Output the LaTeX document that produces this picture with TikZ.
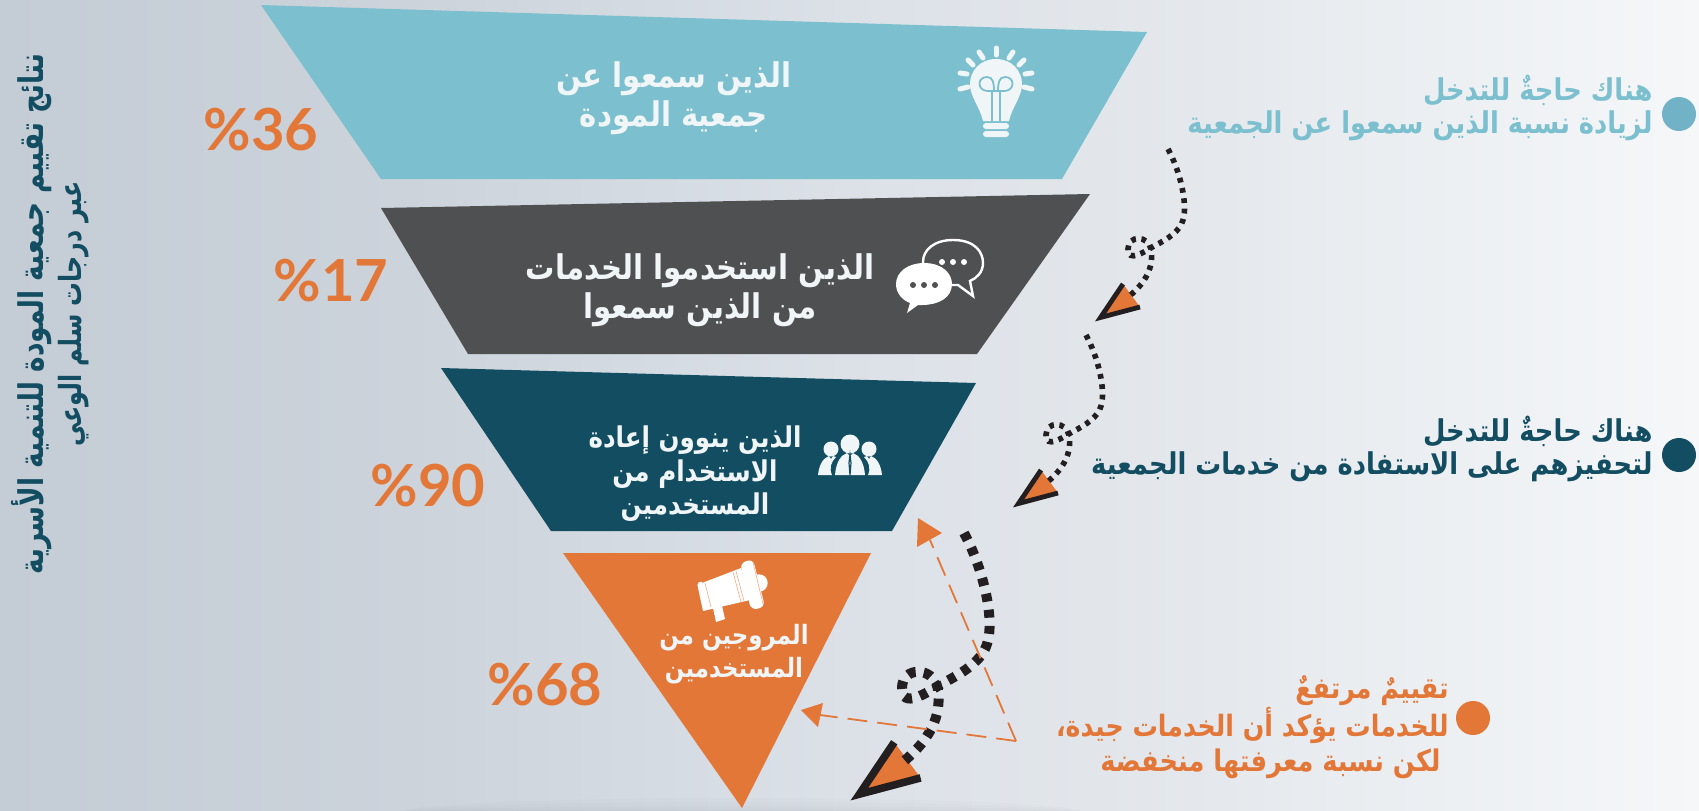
\documentclass[tikz,border=0pt]{standalone}
\usepackage{fontspec}
\TeXXeTstate=1
\newfontfamily\arabicfont[Script=Arabic,FakeStretch=0.86]{DejaVu Sans}
\newfontfamily\titlefont[Script=Arabic,FakeStretch=0.776]{DejaVu Sans}
\newfontfamily\pctfont{Lato}
\definecolor{bgA}{HTML}{C4CCD5}
\definecolor{bgB}{HTML}{CCD3DB}
\definecolor{bgC}{HTML}{DCE1E8}
\definecolor{bgD}{HTML}{E4E8EC}
\definecolor{bgE}{HTML}{F5F7F9}
\definecolor{tealc}{HTML}{7CC0CF}
\definecolor{tealdot}{HTML}{72B2C6}
\definecolor{darkc}{HTML}{4F5052}
\definecolor{navyc}{HTML}{134D62}
\definecolor{orangec}{HTML}{E37738}
\definecolor{iconc}{HTML}{F0F5F7}
\definecolor{inkc}{HTML}{231F20}
\pgfdeclarehorizontalshading{bgshade}{100bp}{color(0bp)=(bgA); color(25bp)=(bgA); color(37bp)=(bgB); color(50bp)=(bgC); color(60bp)=(bgD); color(75bp)=(bgE); color(100bp)=(bgE)}
\tikzset{
  x=0.5pt,y=-0.5pt,
  stagelabel/.style={align=center,text=iconc,inner sep=0pt,font=\arabicfont\bfseries\fontsize{17}{19.5}\selectfont},
  sidelabel/.style={align=right,anchor=east,inner sep=0pt,font=\arabicfont\bfseries\fontsize{15}{16.8}\selectfont},
  pct/.style={text=orangec,inner sep=0pt,font=\pctfont\bfseries\fontsize{29}{29}\selectfont},
  bullet/.style={circle,inner sep=0pt,minimum size=17pt},
  leader/.style={draw=orangec,line width=0.9pt,dash pattern=on 10pt off 5pt},
  tiphead/.style={fill=orangec,draw=none},
}
% dotted arrow: x, y of the start point, scale, head stroke, dot width, dot length, gap
\newcommand{\spiralarrow}[7]{%
\begin{scope}[shift={(#1,#2)},scale=#3]
  \fill[orangec] (-45,135) -- (-67.5,168.5) -- (-28,158) -- cycle;
  \draw[inkc,line width=#4,miter limit=10] (-45,135) -- (-67.5,168.5) -- (-28,158);
  \draw[inkc,line width=#5,dash pattern=on #6 off #7]
    (0,0) .. controls (12,22) and (20,55) .. (15,71)
    .. controls (12,82) and (0,90) .. (-14,97)
    .. controls (-24,103) and (-40,114) .. (-40,100)
    .. controls (-40,86) and (-20,86) .. (-17,100)
    .. controls (-14,118) and (-22,134) .. (-41,149);
\end{scope}}
\begin{document}
\begin{tikzpicture}
\useasboundingbox (0,0) rectangle (1699,810);
\fill[shading=bgshade] (0,0) rectangle (1699,810);
\foreach \h in {14,10,6,3} \fill[black,opacity=.01] (742,812) ellipse (340 and \h);
% funnel
\fill[tealc] (261,5) -- (1147,32) -- (1062,179) -- (381,179) -- cycle;
\fill[darkc] (381,208) -- (1090,194) -- (977,354) -- (468,354) -- cycle;
\fill[navyc] (441,368) -- (976,383) -- (892,531) -- (551,531) -- cycle;
\fill[orangec] (563,553) -- (871,553) -- (742,808) -- cycle;
% stage labels
\node[stagelabel] (s1) at (674,98.5) {\beginR الذين سمعوا عن\endR\\\beginR جمعية المودة\endR};
\node[stagelabel] (s2) at (700,290) {\beginR الذين استخدموا الخدمات\endR\\\beginR من الذين سمعوا\endR};
\node[stagelabel,font=\arabicfont\bfseries\fontsize{14.3}{16.8}\selectfont] (s3) at (695,474) {\beginR الذين ينوون إعادة\endR\\\beginR الاستخدام من\endR\\\beginR المستخدمين\endR};
\node[stagelabel,font=\arabicfont\bfseries\fontsize{13.3}{16.5}\selectfont] (s4) at (734,654) {\beginR المروجين من\endR\\\beginR المستخدمين\endR};
% percentages
\node[pct] (p1) at (261,130) {\%36};
\node[pct] (p2) at (331,281) {\%17};
\node[pct] (p3) at (428,486) {\%90};
\node[pct] (p4) at (545,685) {\%68};
% left title
\node[rotate=90,align=center,inner sep=0pt,text=navyc,font=\titlefont\bfseries\fontsize{17}{19}\selectfont] (title) at (50,314) {\beginR نتائج تقييم جمعية المودة للتنمية الأسرية\endR\\{\fontsize{15.3}{19}\selectfont\beginR عبر درجات سلم الوعي\endR}};
% side notes
\node[bullet,fill=tealdot] (b1) at (1679,114) {};
\node[bullet,fill=navyc] (b2) at (1679,455) {};
\node[bullet,fill=orangec] (b3) at (1473,718) {};
\node[sidelabel,text=tealc] (n1) at (1653,108) {\beginR هناك حاجةٌ للتدخل\endR\\\beginR لزيادة نسبة الذين سمعوا عن الجمعية\endR};
\node[sidelabel,text=navyc] (n2) at (1653,449) {\beginR هناك حاجةٌ للتدخل\endR\\\beginR لتحفيزهم على الاستفادة من خدمات الجمعية\endR};
\node[sidelabel,text=orangec,font=\arabicfont\bfseries\fontsize{14.7}{17.5}\selectfont] (n3) at (1449,727) {\beginR تقييمٌ مرتفعٌ\endR\\\beginR للخدمات يؤكد أن الخدمات جيدة،\endR\\{\fontsize{14.9}{17.5}\selectfont\beginR لكن نسبة معرفتها منخفضة\endR}\rule{4pt}{0pt}};
% dotted arrows
\spiralarrow{1168}{149}{1}{2.4pt}{2.8pt}{2.4pt}{2.8pt}
\spiralarrow{1086}{335}{1}{2.4pt}{2.8pt}{2.4pt}{2.8pt}
\spiralarrow{964}{533}{1.55}{3.8pt}{5pt}{4pt}{4.1pt}
% leaders
\coordinate (apex) at (1016,741);
\coordinate (up) at (930,540);
\coordinate (lf) at (820,715);
\draw[leader] (apex) -- (up);
\draw[leader] (apex) -- (lf);
\fill[tiphead] (918,518) -- (942,533) -- (917,547) -- cycle;
\fill[tiphead] (801,710) -- (823,703) -- (818,727) -- cycle;
% bulb icon
\begin{scope}[shift={(996,83)}]
  \fill[iconc] (0,-24) .. controls (16,-24) and (26,-12) .. (26,1)
     .. controls (26,14) and (16,24) .. (13,38) -- (-13,38)
     .. controls (-16,24) and (-26,14) .. (-26,1)
     .. controls (-26,-12) and (-16,-24) .. (0,-24) -- cycle;
  \draw[tealc,line width=0.9pt] (-4,38) -- (-4,8) -- (-9,8) .. controls (-19,7) and (-19,-6) .. (-9,-6)
     .. controls (-3,-6) and (-2,0) .. (-2,8) (4,38) -- (4,8) -- (9,8) .. controls (19,7) and (19,-6) .. (9,-6)
     .. controls (3,-6) and (2,0) .. (2,8) (-4,8) -- (4,8);
  \fill[iconc,rounded corners=1.5pt] (-13,40) rectangle (13,46);
  \fill[iconc,rounded corners=1.5pt] (-13,48) rectangle (13,54);
  \foreach \xa/\ya/\xb/\yb in {0/-35/0/-28,-17/-31/-13/-25,-28/-23/-23/-18,-36/-10/-29/-9,-36/6/-28/4,17/-31/13/-25,28/-23/23/-18,36/-10/29/-9,36/6/28/4}
    \draw[iconc,line width=2.5pt,line cap=round] (\xa,\ya) -- (\xb,\yb);
\end{scope}
% speech icon
\draw[white,line width=1.2pt,fill=darkc] (953,240) .. controls (975,240) and (983,252) .. (983,263)
   .. controls (983,272) and (977,278) .. (970,281) -- (973,296) -- (958,285) -- (948,285)
   .. controls (932,285) and (923,274) .. (923,262) .. controls (923,250) and (934,240) .. (953,240) -- cycle;
\fill[white] (924,263) .. controls (943,263) and (952,274) .. (952,284) .. controls (952,298) and (938,305) .. (922,305)
   -- (918,305) -- (907,313) -- (910,303) .. controls (902,300) and (896,293) .. (896,284)
   .. controls (896,272) and (908,263) .. (924,263) -- cycle;
\foreach \x in {942,953,964} \fill[white] (\x,262) circle (3);
\foreach \x in {913,924,935} \fill[darkc] (\x,285) circle (3);
% people icon
\begin{scope}
  \fill[iconc] (850,444) circle (9.5) (831,449) circle (7.5) (869,449) circle (7.5);
  \fill[iconc] (835,475) .. controls (836,462) and (841,455) .. (847,453) -- (850,456) -- (853,453)
     .. controls (859,455) and (864,462) .. (865,475) -- cycle;
  \fill[iconc] (818,475) .. controls (819,465) and (823,458) .. (829,456) -- (831,459) -- (833,456)
     -- (836,457) .. controls (831,462) and (829,468) .. (832,475) -- cycle;
  \fill[iconc] (882,475) .. controls (881,465) and (877,458) .. (871,456) -- (869,459) -- (867,456)
     -- (864,457) .. controls (869,462) and (871,468) .. (868,475) -- cycle;
  \draw[navyc,line width=0.6pt] (850,455) -- (849,463) -- (850,475) -- (851,463) -- cycle;
\end{scope}
% megaphone icon
\fill[white] (702,583) -- (741,568) -- (750,600) -- (703,611) -- cycle;
\fill[white,rounded corners=1pt] (697,583) -- (702,581) -- (709,609) -- (703,611) -- cycle;
\fill[white,rounded corners=3pt] (740,563) -- (753,559) -- (765,607) -- (751,610) -- cycle;
\fill[white] (759,583) circle (8.7);
\fill[white] (713,608) -- (722,606) -- (725,619) -- (716,622) -- cycle;
\draw[orangec!55!white,line width=0.35pt] (736,571) -- (744,601) (733,572) -- (741,602) (705,583) -- (711,607) (753,562) -- (763,604);
\end{tikzpicture}
\end{document}
